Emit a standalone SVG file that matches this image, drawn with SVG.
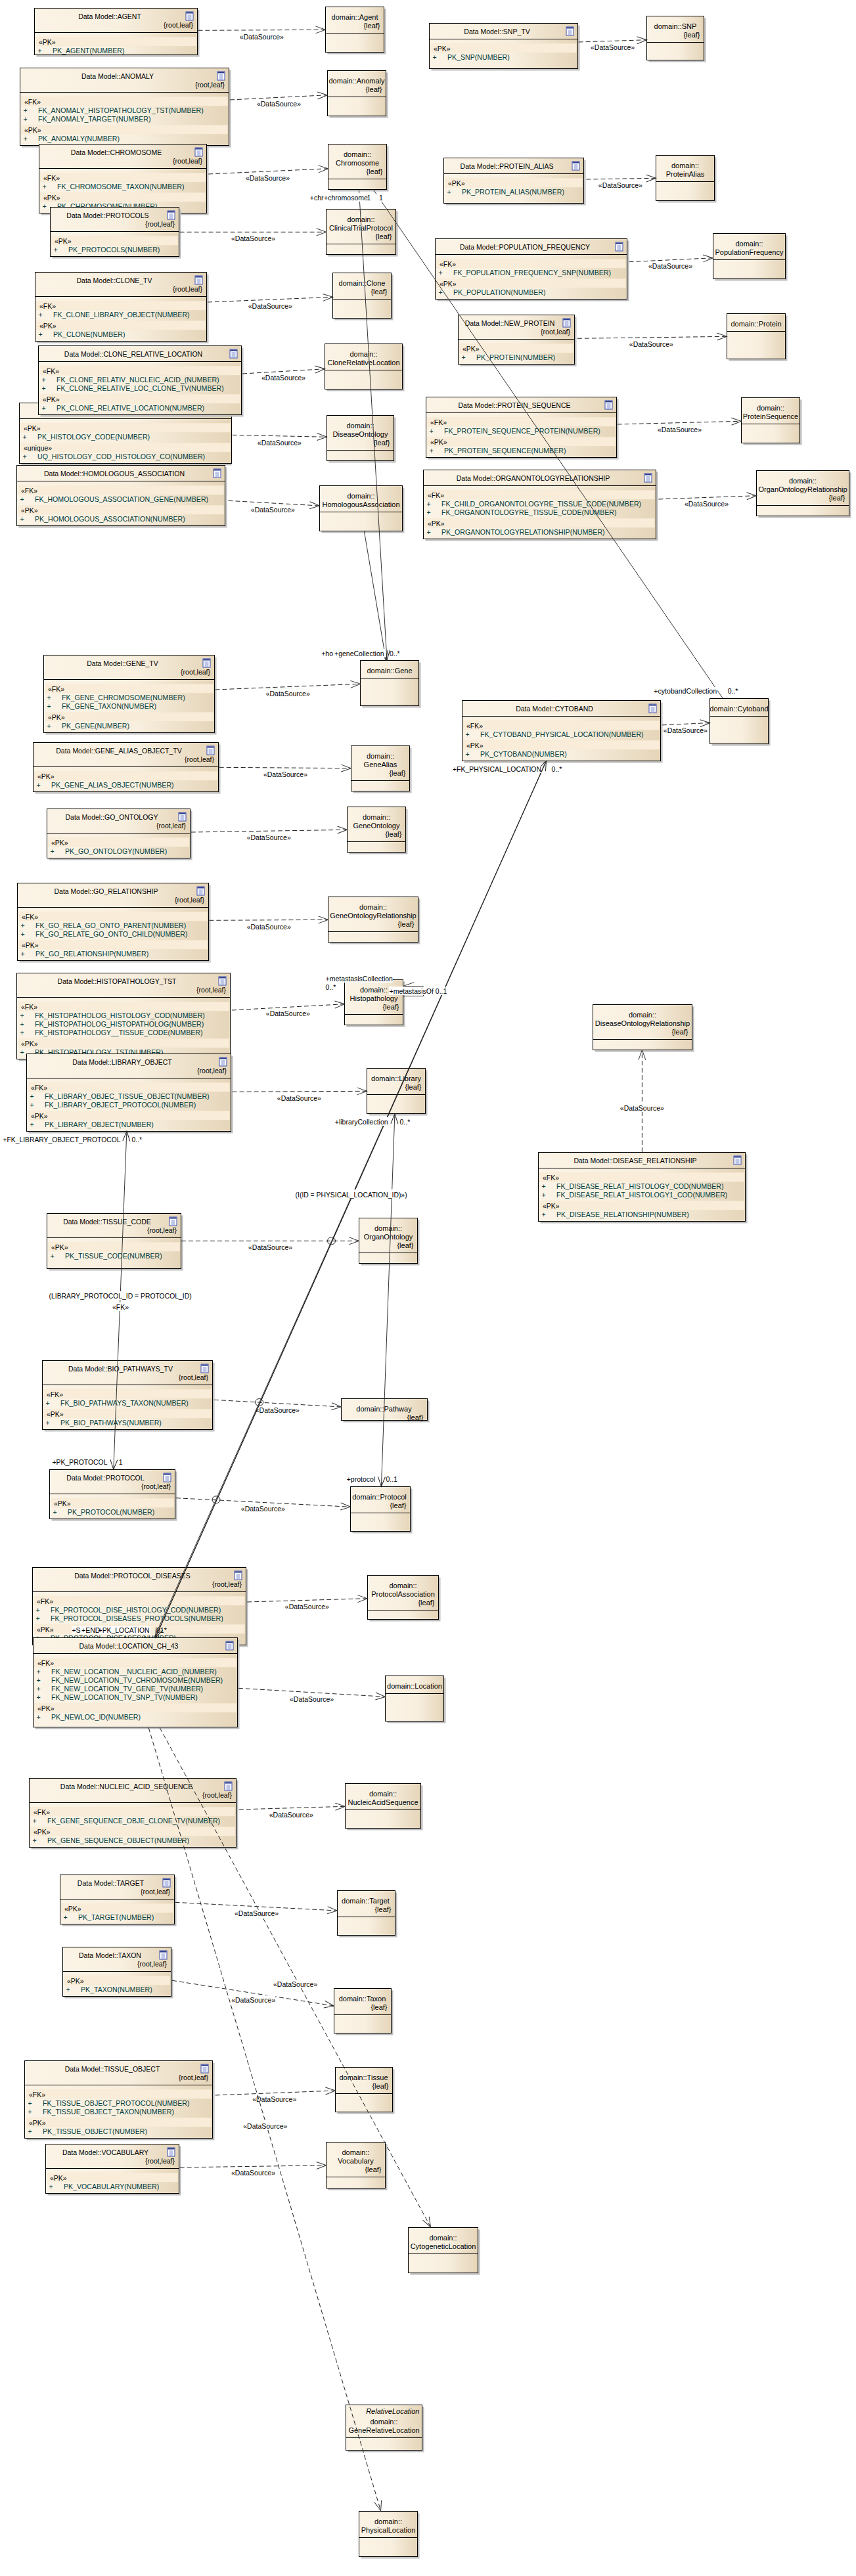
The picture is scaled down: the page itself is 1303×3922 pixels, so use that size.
<svg xmlns="http://www.w3.org/2000/svg" width="1303" height="3922" viewBox="0 0 1303 3922">
<style>
text{font-family:"Liberation Sans",Arial,sans-serif;font-size:11px;fill:#000}
#tables text,#labels text{font-size:10.5px}
#tables .a{font-size:10.6px;fill:#003c3c}
.sh{fill:#c0c0c0}
.b{fill:url(#g);stroke:#000;stroke-width:1}
.l{stroke:#000;stroke-width:1}
.bd{fill:#f9edd9;stroke:#f7e8d0;stroke-width:.5}
.t{text-anchor:middle}
.r{text-anchor:end}
.i{font-style:italic}
.d{fill:none;stroke:#222;stroke-width:1;stroke-dasharray:7 4;marker-end:url(#ah)}
.s{fill:none;stroke:#333;stroke-width:1}
.k{fill:none;stroke:#111;stroke-width:1.2}
.h{fill:none;stroke:#222;stroke-width:1}
.w{fill:#fff}
</style>
<defs>
<linearGradient id="g" x1="0" y1="0" x2="1" y2="0"><stop offset="0" stop-color="#fbf3e5"/><stop offset=".55" stop-color="#f8efdf"/><stop offset="1" stop-color="#e5d5b9"/></linearGradient>
<marker id="ah" markerUnits="userSpaceOnUse" markerWidth="18" markerHeight="14" viewBox="-16 -7 18 14" refX="0" refY="0" orient="auto"><path d="M-15,-5.5L0,0L-15,5.5" fill="none" stroke="#333" stroke-width="1"/></marker>
<marker id="as" markerUnits="userSpaceOnUse" markerWidth="18" markerHeight="14" viewBox="-16 -7 18 14" refX="0" refY="0" orient="auto-start-reverse"><path d="M-15,-5.5L0,0L-15,5.5" fill="none" stroke="#222" stroke-width="1"/></marker>
<g id="ico"><rect x=".5" y=".5" width="11" height="13" fill="#fff" stroke="#3a4fb0"/><rect x="1" y="1" width="10" height="2" fill="#2a3a8c"/><path d="M3,5.5H9M3,7.5H9M3,9.5H9M3,11.5H9" stroke="#7f8fd0" stroke-width="1"/></g>
</defs>
<g id="tables">
<g id="t-agent" transform="translate(52.5,12.5)"><rect class="sh" x="3" y="3" width="248" height="71"/><rect class="b" width="248" height="71"/><line class="l" x2="248" y1="37" y2="37"/><use href="#ico" x="230" y="5"/><text class="t" x="114.5" y="16">Data Model::AGENT</text><text class="r" x="241.5" y="29.5">{root,leaf}</text><g transform="translate(0,37)"><rect class="bd" x="2" y="7" width="244" height="13.5"/><text x="6.5" y="18">«PK»</text><text class="a" y="31"><tspan x="5">+</tspan><tspan x="27.5">PK_AGENT(NUMBER)</tspan></text></g></g>
<g id="t-anomaly" transform="translate(30.5,103.5)"><rect class="sh" x="3" y="3" width="318" height="118"/><rect class="b" width="318" height="118"/><line class="l" x2="318" y1="37" y2="37"/><use href="#ico" x="300" y="5"/><text class="t" x="148.5" y="16">Data Model::ANOMALY</text><text class="r" x="311.5" y="29.5">{root,leaf}</text><g transform="translate(0,37)"><rect class="bd" x="2" y="7" width="314" height="13.5"/><text x="6.5" y="18">«FK»</text><text class="a" y="31"><tspan x="5">+</tspan><tspan x="27.5">FK_ANOMALY_HISTOPATHOLOGY_TST(NUMBER)</tspan></text><text class="a" y="44"><tspan x="5">+</tspan><tspan x="27.5">FK_ANOMALY_TARGET(NUMBER)</tspan></text><rect class="bd" x="2" y="50" width="314" height="13.5"/><text x="6.5" y="61">«PK»</text><text class="a" y="74"><tspan x="5">+</tspan><tspan x="27.5">PK_ANOMALY(NUMBER)</tspan></text></g></g>
<g id="t-chromosome" transform="translate(59.5,219.5)"><rect class="sh" x="3" y="3" width="255" height="105"/><rect class="b" width="255" height="105"/><line class="l" x2="255" y1="37" y2="37"/><use href="#ico" x="237" y="5"/><text class="t" x="117.5" y="16">Data Model::CHROMOSOME</text><text class="r" x="248.5" y="29.5">{root,leaf}</text><g transform="translate(0,37)"><rect class="bd" x="2" y="7" width="251" height="13.5"/><text x="6.5" y="18">«FK»</text><text class="a" y="31"><tspan x="5">+</tspan><tspan x="27.5">FK_CHROMOSOME_TAXON(NUMBER)</tspan></text><rect class="bd" x="2" y="37" width="251" height="13.5"/><text x="6.5" y="48">«PK»</text><text class="a" y="61"><tspan x="5">+</tspan><tspan x="27.5">PK_CHROMOSOME(NUMBER)</tspan></text></g></g>
<g id="t-protocols" transform="translate(76.5,315.5)"><rect class="sh" x="3" y="3" width="196" height="75"/><rect class="b" width="196" height="75"/><line class="l" x2="196" y1="37" y2="37"/><use href="#ico" x="178" y="5"/><text class="t" x="87.5" y="16">Data Model::PROTOCOLS</text><text class="r" x="189.5" y="29.5">{root,leaf}</text><g transform="translate(0,37)"><rect class="bd" x="2" y="7" width="192" height="13.5"/><text x="6.5" y="18">«PK»</text><text class="a" y="31"><tspan x="5">+</tspan><tspan x="27.5">PK_PROTOCOLS(NUMBER)</tspan></text></g></g>
<g id="t-clone-tv" transform="translate(53.5,414.5)"><rect class="sh" x="3" y="3" width="261" height="105"/><rect class="b" width="261" height="105"/><line class="l" x2="261" y1="37" y2="37"/><use href="#ico" x="243" y="5"/><text class="t" x="120.5" y="16">Data Model::CLONE_TV</text><text class="r" x="254.5" y="29.5">{root,leaf}</text><g transform="translate(0,37)"><rect class="bd" x="2" y="7" width="257" height="13.5"/><text x="6.5" y="18">«FK»</text><text class="a" y="31"><tspan x="5">+</tspan><tspan x="27.5">FK_CLONE_LIBRARY_OBJECT(NUMBER)</tspan></text><rect class="bd" x="2" y="37" width="257" height="13.5"/><text x="6.5" y="48">«PK»</text><text class="a" y="61"><tspan x="5">+</tspan><tspan x="27.5">PK_CLONE(NUMBER)</tspan></text></g></g>
<g id="t-histology" transform="translate(29.5,613.5)"><rect class="sh" x="3" y="3" width="320" height="92"/><rect class="b" width="323" height="92"/><line class="l" x2="323" y1="24" y2="24"/><g transform="translate(0,24)"><rect class="bd" x="2" y="7" width="319" height="13.5"/><text x="6.5" y="18">«PK»</text><text class="a" y="31"><tspan x="5">+</tspan><tspan x="27.5">PK_HISTOLOGY_CODE(NUMBER)</tspan></text><rect class="bd" x="2" y="37" width="319" height="13.5"/><text x="6.5" y="48">«unique»</text><text class="a" y="61"><tspan x="5">+</tspan><tspan x="27.5">UQ_HISTOLOGY_COD_HISTOLOGY_CO(NUMBER)</tspan></text></g></g>
<g id="t-clone-relative" transform="translate(58.5,526.5)"><rect class="sh" x="3" y="3" width="309" height="105"/><rect class="b" width="309" height="105"/><line class="l" x2="309" y1="24" y2="24"/><use href="#ico" x="291" y="5"/><text class="t" x="144.5" y="16">Data Model::CLONE_RELATIVE_LOCATION</text><g transform="translate(0,24)"><rect class="bd" x="2" y="7" width="305" height="13.5"/><text x="6.5" y="18">«FK»</text><text class="a" y="31"><tspan x="5">+</tspan><tspan x="27.5">FK_CLONE_RELATIV_NUCLEIC_ACID_(NUMBER)</tspan></text><text class="a" y="44"><tspan x="5">+</tspan><tspan x="27.5">FK_CLONE_RELATIVE_LOC_CLONE_TV(NUMBER)</tspan></text><rect class="bd" x="2" y="50" width="305" height="13.5"/><text x="6.5" y="61">«PK»</text><text class="a" y="74"><tspan x="5">+</tspan><tspan x="27.5">PK_CLONE_RELATIVE_LOCATION(NUMBER)</tspan></text></g></g>
<g id="t-homologous" transform="translate(25.5,708.5)"><rect class="sh" x="3" y="3" width="317" height="92"/><rect class="b" width="317" height="92"/><line class="l" x2="317" y1="24" y2="24"/><use href="#ico" x="299" y="5"/><text class="t" x="148.5" y="16">Data Model::HOMOLOGOUS_ASSOCIATION</text><g transform="translate(0,24)"><rect class="bd" x="2" y="7" width="313" height="13.5"/><text x="6.5" y="18">«FK»</text><text class="a" y="31"><tspan x="5">+</tspan><tspan x="27.5">FK_HOMOLOGOUS_ASSOCIATION_GENE(NUMBER)</tspan></text><rect class="bd" x="2" y="37" width="313" height="13.5"/><text x="6.5" y="48">«PK»</text><text class="a" y="61"><tspan x="5">+</tspan><tspan x="27.5">PK_HOMOLOGOUS_ASSOCIATION(NUMBER)</tspan></text></g></g>
<g id="t-snp" transform="translate(653.5,35.5)"><rect class="sh" x="3" y="3" width="226" height="69"/><rect class="b" width="226" height="69"/><line class="l" x2="226" y1="24" y2="24"/><use href="#ico" x="208" y="5"/><text class="t" x="103" y="16">Data Model::SNP_TV</text><g transform="translate(0,24)"><rect class="bd" x="2" y="7" width="222" height="13.5"/><text x="6.5" y="18">«PK»</text><text class="a" y="31"><tspan x="5">+</tspan><tspan x="27.5">PK_SNP(NUMBER)</tspan></text></g></g>
<g id="t-protein-alias" transform="translate(675.5,240.5)"><rect class="sh" x="3" y="3" width="213" height="69"/><rect class="b" width="213" height="69"/><line class="l" x2="213" y1="24" y2="24"/><use href="#ico" x="195" y="5"/><text class="t" x="96" y="16">Data Model::PROTEIN_ALIAS</text><g transform="translate(0,24)"><rect class="bd" x="2" y="7" width="209" height="13.5"/><text x="6.5" y="18">«PK»</text><text class="a" y="31"><tspan x="5">+</tspan><tspan x="27.5">PK_PROTEIN_ALIAS(NUMBER)</tspan></text></g></g>
<g id="t-population" transform="translate(662.5,363.5)"><rect class="sh" x="3" y="3" width="292" height="92"/><rect class="b" width="292" height="92"/><line class="l" x2="292" y1="24" y2="24"/><use href="#ico" x="274" y="5"/><text class="t" x="136.5" y="16">Data Model::POPULATION_FREQUENCY</text><g transform="translate(0,24)"><rect class="bd" x="2" y="7" width="288" height="13.5"/><text x="6.5" y="18">«FK»</text><text class="a" y="31"><tspan x="5">+</tspan><tspan x="27.5">FK_POPULATION_FREQUENCY_SNP(NUMBER)</tspan></text><rect class="bd" x="2" y="37" width="288" height="13.5"/><text x="6.5" y="48">«PK»</text><text class="a" y="61"><tspan x="5">+</tspan><tspan x="27.5">PK_POPULATION(NUMBER)</tspan></text></g></g>
<g id="t-new-protein" transform="translate(697.5,479.5)"><rect class="sh" x="3" y="3" width="177" height="75"/><rect class="b" width="177" height="75"/><line class="l" x2="177" y1="37" y2="37"/><use href="#ico" x="159" y="5"/><text class="t" x="78.5" y="16">Data Model::NEW_PROTEIN</text><text class="r" x="170.5" y="29.5">{root,leaf}</text><g transform="translate(0,37)"><rect class="bd" x="2" y="7" width="173" height="13.5"/><text x="6.5" y="18">«PK»</text><text class="a" y="31"><tspan x="5">+</tspan><tspan x="27.5">PK_PROTEIN(NUMBER)</tspan></text></g></g>
<g id="t-protein-seq" transform="translate(648.5,604.5)"><rect class="sh" x="3" y="3" width="290" height="92"/><rect class="b" width="290" height="92"/><line class="l" x2="290" y1="24" y2="24"/><use href="#ico" x="272" y="5"/><text class="t" x="134.5" y="16">Data Model::PROTEIN_SEQUENCE</text><g transform="translate(0,24)"><rect class="bd" x="2" y="7" width="286" height="13.5"/><text x="6.5" y="18">«FK»</text><text class="a" y="31"><tspan x="5">+</tspan><tspan x="27.5">FK_PROTEIN_SEQUENCE_PROTEIN(NUMBER)</tspan></text><rect class="bd" x="2" y="37" width="286" height="13.5"/><text x="6.5" y="48">«PK»</text><text class="a" y="61"><tspan x="5">+</tspan><tspan x="27.5">PK_PROTEIN_SEQUENCE(NUMBER)</tspan></text></g></g>
<g id="t-organ-rel" transform="translate(644.5,715.5)"><rect class="sh" x="3" y="3" width="354" height="105"/><rect class="b" width="354" height="105"/><line class="l" x2="354" y1="24" y2="24"/><use href="#ico" x="336" y="5"/><text class="t" x="167" y="16">Data Model::ORGANONTOLOGYRELATIONSHIP</text><g transform="translate(0,24)"><rect class="bd" x="2" y="7" width="350" height="13.5"/><text x="6.5" y="18">«FK»</text><text class="a" y="31"><tspan x="5">+</tspan><tspan x="27.5">FK_CHILD_ORGANONTOLOGYRE_TISSUE_CODE(NUMBER)</tspan></text><text class="a" y="44"><tspan x="5">+</tspan><tspan x="27.5">FK_ORGANONTOLOGYRE_TISSUE_CODE(NUMBER)</tspan></text><rect class="bd" x="2" y="50" width="350" height="13.5"/><text x="6.5" y="61">«PK»</text><text class="a" y="74"><tspan x="5">+</tspan><tspan x="27.5">PK_ORGANONTOLOGYRELATIONSHIP(NUMBER)</tspan></text></g></g>
<g id="t-cytoband" transform="translate(703.5,1066.5)"><rect class="sh" x="3" y="3" width="302" height="92"/><rect class="b" width="302" height="92"/><line class="l" x2="302" y1="24" y2="24"/><use href="#ico" x="284" y="5"/><text class="t" x="140.5" y="16">Data Model::CYTOBAND</text><g transform="translate(0,24)"><rect class="bd" x="2" y="7" width="298" height="13.5"/><text x="6.5" y="18">«FK»</text><text class="a" y="31"><tspan x="5">+</tspan><tspan x="27.5">FK_CYTOBAND_PHYSICAL_LOCATION(NUMBER)</tspan></text><rect class="bd" x="2" y="37" width="298" height="13.5"/><text x="6.5" y="48">«PK»</text><text class="a" y="61"><tspan x="5">+</tspan><tspan x="27.5">PK_CYTOBAND(NUMBER)</tspan></text></g></g>
<g id="t-gene-tv" transform="translate(66.5,997.5)"><rect class="sh" x="3" y="3" width="260" height="118"/><rect class="b" width="260" height="118"/><line class="l" x2="260" y1="37" y2="37"/><use href="#ico" x="242" y="5"/><text class="t" x="120" y="16">Data Model::GENE_TV</text><text class="r" x="253.5" y="29.5">{root,leaf}</text><g transform="translate(0,37)"><rect class="bd" x="2" y="7" width="256" height="13.5"/><text x="6.5" y="18">«FK»</text><text class="a" y="31"><tspan x="5">+</tspan><tspan x="27.5">FK_GENE_CHROMOSOME(NUMBER)</tspan></text><text class="a" y="44"><tspan x="5">+</tspan><tspan x="27.5">FK_GENE_TAXON(NUMBER)</tspan></text><rect class="bd" x="2" y="50" width="256" height="13.5"/><text x="6.5" y="61">«PK»</text><text class="a" y="74"><tspan x="5">+</tspan><tspan x="27.5">PK_GENE(NUMBER)</tspan></text></g></g>
<g id="t-gene-alias" transform="translate(50.5,1130.5)"><rect class="sh" x="3" y="3" width="282" height="75"/><rect class="b" width="282" height="75"/><line class="l" x2="282" y1="37" y2="37"/><use href="#ico" x="264" y="5"/><text class="t" x="130.5" y="16">Data Model::GENE_ALIAS_OBJECT_TV</text><text class="r" x="275.5" y="29.5">{root,leaf}</text><g transform="translate(0,37)"><rect class="bd" x="2" y="7" width="278" height="13.5"/><text x="6.5" y="18">«PK»</text><text class="a" y="31"><tspan x="5">+</tspan><tspan x="27.5">PK_GENE_ALIAS_OBJECT(NUMBER)</tspan></text></g></g>
<g id="t-go-ontology" transform="translate(71.5,1231.5)"><rect class="sh" x="3" y="3" width="218" height="75"/><rect class="b" width="218" height="75"/><line class="l" x2="218" y1="37" y2="37"/><use href="#ico" x="200" y="5"/><text class="t" x="98.5" y="16">Data Model::GO_ONTOLOGY</text><text class="r" x="211.5" y="29.5">{root,leaf}</text><g transform="translate(0,37)"><rect class="bd" x="2" y="7" width="214" height="13.5"/><text x="6.5" y="18">«PK»</text><text class="a" y="31"><tspan x="5">+</tspan><tspan x="27.5">PK_GO_ONTOLOGY(NUMBER)</tspan></text></g></g>
<g id="t-go-rel" transform="translate(26.5,1344.5)"><rect class="sh" x="3" y="3" width="291" height="118"/><rect class="b" width="291" height="118"/><line class="l" x2="291" y1="37" y2="37"/><use href="#ico" x="273" y="5"/><text class="t" x="135" y="16">Data Model::GO_RELATIONSHIP</text><text class="r" x="284.5" y="29.5">{root,leaf}</text><g transform="translate(0,37)"><rect class="bd" x="2" y="7" width="287" height="13.5"/><text x="6.5" y="18">«FK»</text><text class="a" y="31"><tspan x="5">+</tspan><tspan x="27.5">FK_GO_RELA_GO_ONTO_PARENT(NUMBER)</tspan></text><text class="a" y="44"><tspan x="5">+</tspan><tspan x="27.5">FK_GO_RELATE_GO_ONTO_CHILD(NUMBER)</tspan></text><rect class="bd" x="2" y="50" width="287" height="13.5"/><text x="6.5" y="61">«PK»</text><text class="a" y="74"><tspan x="5">+</tspan><tspan x="27.5">PK_GO_RELATIONSHIP(NUMBER)</tspan></text></g></g>
<g id="t-histopathology" transform="translate(25.5,1481.5)"><rect class="sh" x="3" y="3" width="322" height="131"/><rect class="b" width="325" height="131"/><line class="l" x2="325" y1="37" y2="37"/><use href="#ico" x="307" y="5"/><text class="t" x="152.5" y="16">Data Model::HISTOPATHOLOGY_TST</text><text class="r" x="318.5" y="29.5">{root,leaf}</text><g transform="translate(0,37)"><rect class="bd" x="2" y="7" width="321" height="13.5"/><text x="6.5" y="18">«FK»</text><text class="a" y="31"><tspan x="5">+</tspan><tspan x="27.5">FK_HISTOPATHOLOG_HISTOLOGY_COD(NUMBER)</tspan></text><text class="a" y="44"><tspan x="5">+</tspan><tspan x="27.5">FK_HISTOPATHOLOG_HISTOPATHOLOG(NUMBER)</tspan></text><text class="a" y="57"><tspan x="5">+</tspan><tspan x="27.5">FK_HISTOPATHOLOGY__TISSUE_CODE(NUMBER)</tspan></text><rect class="bd" x="2" y="63" width="321" height="13.5"/><text x="6.5" y="74">«PK»</text><text class="a" y="87"><tspan x="5">+</tspan><tspan x="27.5">PK_HISTOPATHOLOGY_TST(NUMBER)</tspan></text></g></g>
<g id="t-library-object" transform="translate(40.5,1604.5)"><rect class="sh" x="3" y="3" width="311" height="118"/><rect class="b" width="311" height="118"/><line class="l" x2="311" y1="37" y2="37"/><use href="#ico" x="293" y="5"/><text class="t" x="145.5" y="16">Data Model::LIBRARY_OBJECT</text><text class="r" x="304.5" y="29.5">{root,leaf}</text><g transform="translate(0,37)"><rect class="bd" x="2" y="7" width="307" height="13.5"/><text x="6.5" y="18">«FK»</text><text class="a" y="31"><tspan x="5">+</tspan><tspan x="27.5">FK_LIBRARY_OBJEC_TISSUE_OBJECT(NUMBER)</tspan></text><text class="a" y="44"><tspan x="5">+</tspan><tspan x="27.5">FK_LIBRARY_OBJECT_PROTOCOL(NUMBER)</tspan></text><rect class="bd" x="2" y="50" width="307" height="13.5"/><text x="6.5" y="61">«PK»</text><text class="a" y="74"><tspan x="5">+</tspan><tspan x="27.5">PK_LIBRARY_OBJECT(NUMBER)</tspan></text></g></g>
<g id="t-tissue-code" transform="translate(71.5,1847.5)"><rect class="sh" x="3" y="3" width="204" height="84"/><rect class="b" width="204" height="84"/><line class="l" x2="204" y1="37" y2="37"/><use href="#ico" x="186" y="5"/><text class="t" x="91.5" y="16">Data Model::TISSUE_CODE</text><text class="r" x="197.5" y="29.5">{root,leaf}</text><g transform="translate(0,37)"><rect class="bd" x="2" y="7" width="200" height="13.5"/><text x="6.5" y="18">«PK»</text><text class="a" y="31"><tspan x="5">+</tspan><tspan x="27.5">PK_TISSUE_CODE(NUMBER)</tspan></text></g></g>
<g id="t-disease-rel" transform="translate(819.5,1754.5)"><rect class="sh" x="3" y="3" width="315" height="105"/><rect class="b" width="315" height="105"/><line class="l" x2="315" y1="24" y2="24"/><use href="#ico" x="297" y="5"/><text class="t" x="147.5" y="16">Data Model::DISEASE_RELATIONSHIP</text><g transform="translate(0,24)"><rect class="bd" x="2" y="7" width="311" height="13.5"/><text x="6.5" y="18">«FK»</text><text class="a" y="31"><tspan x="5">+</tspan><tspan x="27.5">FK_DISEASE_RELAT_HISTOLOGY_COD(NUMBER)</tspan></text><text class="a" y="44"><tspan x="5">+</tspan><tspan x="27.5">FK_DISEASE_RELAT_HISTOLOGY1_COD(NUMBER)</tspan></text><rect class="bd" x="2" y="50" width="311" height="13.5"/><text x="6.5" y="61">«PK»</text><text class="a" y="74"><tspan x="5">+</tspan><tspan x="27.5">PK_DISEASE_RELATIONSHIP(NUMBER)</tspan></text></g></g>
<g id="t-bio" transform="translate(64.5,2071.5)"><rect class="sh" x="3" y="3" width="259" height="105"/><rect class="b" width="259" height="105"/><line class="l" x2="259" y1="37" y2="37"/><use href="#ico" x="241" y="5"/><text class="t" x="119" y="16">Data Model::BIO_PATHWAYS_TV</text><text class="r" x="252.5" y="29.5">{root,leaf}</text><g transform="translate(0,37)"><rect class="bd" x="2" y="7" width="255" height="13.5"/><text x="6.5" y="18">«FK»</text><text class="a" y="31"><tspan x="5">+</tspan><tspan x="27.5">FK_BIO_PATHWAYS_TAXON(NUMBER)</tspan></text><rect class="bd" x="2" y="37" width="255" height="13.5"/><text x="6.5" y="48">«PK»</text><text class="a" y="61"><tspan x="5">+</tspan><tspan x="27.5">PK_BIO_PATHWAYS(NUMBER)</tspan></text></g></g>
<g id="t-protocol" transform="translate(75.5,2237.5)"><rect class="sh" x="3" y="3" width="191" height="75"/><rect class="b" width="191" height="75"/><line class="l" x2="191" y1="37" y2="37"/><use href="#ico" x="173" y="5"/><text class="t" x="85" y="16">Data Model::PROTOCOL</text><text class="r" x="184.5" y="29.5">{root,leaf}</text><g transform="translate(0,37)"><rect class="bd" x="2" y="7" width="187" height="13.5"/><text x="6.5" y="18">«PK»</text><text class="a" y="31"><tspan x="5">+</tspan><tspan x="27.5">PK_PROTOCOL(NUMBER)</tspan></text></g></g>
<g id="t-protocol-diseases" transform="translate(49.5,2386.5)"><rect class="sh" x="3" y="3" width="325" height="118"/><rect class="b" width="325" height="118"/><line class="l" x2="325" y1="37" y2="37"/><use href="#ico" x="307" y="5"/><text class="t" x="152" y="16">Data Model::PROTOCOL_DISEASES</text><text class="r" x="318.5" y="29.5">{root,leaf}</text><g transform="translate(0,37)"><rect class="bd" x="2" y="7" width="321" height="13.5"/><text x="6.5" y="18">«FK»</text><text class="a" y="31"><tspan x="5">+</tspan><tspan x="27.5">FK_PROTOCOL_DISE_HISTOLOGY_COD(NUMBER)</tspan></text><text class="a" y="44"><tspan x="5">+</tspan><tspan x="27.5">FK_PROTOCOL_DISEASES_PROTOCOLS(NUMBER)</tspan></text><rect class="bd" x="2" y="50" width="321" height="13.5"/><text x="6.5" y="61">«PK»</text><text class="a" y="74"><tspan x="5">+</tspan><tspan x="27.5">PK_PROTOCOL_DISEASES(NUMBER)</tspan></text></g></g>
<g id="t-location" transform="translate(50.5,2493.5)"><rect class="sh" x="3" y="3" width="311" height="136"/><rect class="b" width="311" height="136"/><line class="l" x2="311" y1="24" y2="24"/><use href="#ico" x="293" y="5"/><text class="t" x="145.5" y="16">Data Model::LOCATION_CH_43</text><g transform="translate(0,24)"><rect class="bd" x="2" y="7" width="307" height="13.5"/><text x="6.5" y="18">«FK»</text><text class="a" y="31"><tspan x="5">+</tspan><tspan x="27.5">FK_NEW_LOCATION__NUCLEIC_ACID_(NUMBER)</tspan></text><text class="a" y="44"><tspan x="5">+</tspan><tspan x="27.5">FK_NEW_LOCATION_TV_CHROMOSOME(NUMBER)</tspan></text><text class="a" y="57"><tspan x="5">+</tspan><tspan x="27.5">FK_NEW_LOCATION_TV_GENE_TV(NUMBER)</tspan></text><text class="a" y="70"><tspan x="5">+</tspan><tspan x="27.5">FK_NEW_LOCATION_TV_SNP_TV(NUMBER)</tspan></text><rect class="bd" x="2" y="76" width="307" height="13.5"/><text x="6.5" y="87">«PK»</text><text class="a" y="100"><tspan x="5">+</tspan><tspan x="27.5">PK_NEWLOC_ID(NUMBER)</tspan></text></g></g>
<g id="t-nucleic" transform="translate(44.5,2707.5)"><rect class="sh" x="3" y="3" width="315" height="105"/><rect class="b" width="315" height="105"/><line class="l" x2="315" y1="37" y2="37"/><use href="#ico" x="297" y="5"/><text class="t" x="148" y="16">Data Model::NUCLEIC_ACID_SEQUENCE</text><text class="r" x="308.5" y="29.5">{root,leaf}</text><g transform="translate(0,37)"><rect class="bd" x="2" y="7" width="311" height="13.5"/><text x="6.5" y="18">«FK»</text><text class="a" y="31"><tspan x="5">+</tspan><tspan x="27.5">FK_GENE_SEQUENCE_OBJE_CLONE_TV(NUMBER)</tspan></text><rect class="bd" x="2" y="37" width="311" height="13.5"/><text x="6.5" y="48">«PK»</text><text class="a" y="61"><tspan x="5">+</tspan><tspan x="27.5">PK_GENE_SEQUENCE_OBJECT(NUMBER)</tspan></text></g></g>
<g id="t-target" transform="translate(91.5,2854.5)"><rect class="sh" x="3" y="3" width="174" height="75"/><rect class="b" width="174" height="75"/><line class="l" x2="174" y1="37" y2="37"/><use href="#ico" x="156" y="5"/><text class="t" x="77" y="16">Data Model::TARGET</text><text class="r" x="167.5" y="29.5">{root,leaf}</text><g transform="translate(0,37)"><rect class="bd" x="2" y="7" width="170" height="13.5"/><text x="6.5" y="18">«PK»</text><text class="a" y="31"><tspan x="5">+</tspan><tspan x="27.5">PK_TARGET(NUMBER)</tspan></text></g></g>
<g id="t-taxon" transform="translate(95.5,2964.5)"><rect class="sh" x="3" y="3" width="165" height="75"/><rect class="b" width="165" height="75"/><line class="l" x2="165" y1="37" y2="37"/><use href="#ico" x="147" y="5"/><text class="t" x="72" y="16">Data Model::TAXON</text><text class="r" x="158.5" y="29.5">{root,leaf}</text><g transform="translate(0,37)"><rect class="bd" x="2" y="7" width="161" height="13.5"/><text x="6.5" y="18">«PK»</text><text class="a" y="31"><tspan x="5">+</tspan><tspan x="27.5">PK_TAXON(NUMBER)</tspan></text></g></g>
<g id="t-tissue-object" transform="translate(37.5,3137.5)"><rect class="sh" x="3" y="3" width="286" height="118"/><rect class="b" width="286" height="118"/><line class="l" x2="286" y1="37" y2="37"/><use href="#ico" x="268" y="5"/><text class="t" x="133.5" y="16">Data Model::TISSUE_OBJECT</text><text class="r" x="279.5" y="29.5">{root,leaf}</text><g transform="translate(0,37)"><rect class="bd" x="2" y="7" width="282" height="13.5"/><text x="6.5" y="18">«FK»</text><text class="a" y="31"><tspan x="5">+</tspan><tspan x="27.5">FK_TISSUE_OBJECT_PROTOCOL(NUMBER)</tspan></text><text class="a" y="44"><tspan x="5">+</tspan><tspan x="27.5">FK_TISSUE_OBJECT_TAXON(NUMBER)</tspan></text><rect class="bd" x="2" y="50" width="282" height="13.5"/><text x="6.5" y="61">«PK»</text><text class="a" y="74"><tspan x="5">+</tspan><tspan x="27.5">PK_TISSUE_OBJECT(NUMBER)</tspan></text></g></g>
<g id="t-vocabulary" transform="translate(69.5,3264.5)"><rect class="sh" x="3" y="3" width="203" height="75"/><rect class="b" width="203" height="75"/><line class="l" x2="203" y1="37" y2="37"/><use href="#ico" x="185" y="5"/><text class="t" x="91" y="16">Data Model::VOCABULARY</text><text class="r" x="196.5" y="29.5">{root,leaf}</text><g transform="translate(0,37)"><rect class="bd" x="2" y="7" width="199" height="13.5"/><text x="6.5" y="18">«PK»</text><text class="a" y="31"><tspan x="5">+</tspan><tspan x="27.5">PK_VOCABULARY(NUMBER)</tspan></text></g></g>
</g>
<g id="classes">
<g id="d-agent" transform="translate(495.5,10.5)"><rect class="sh" x="3" y="3" width="89" height="69"/><rect class="b" width="89" height="69"/><line class="l" x2="89" y1="40" y2="40"/><text class="t" x="44.5" y="19">domain::Agent</text><text class="r" x="83" y="32">{leaf}</text></g>
<g id="d-anomaly" transform="translate(498.5,107.5)"><rect class="sh" x="3" y="3" width="89" height="69"/><rect class="b" width="89" height="69"/><line class="l" x2="89" y1="40" y2="40"/><text class="t" x="44.5" y="19">domain::Anomaly</text><text class="r" x="83" y="32">{leaf}</text></g>
<g id="d-chromosome" transform="translate(499.5,219.5)"><rect class="sh" x="3" y="3" width="89" height="69"/><rect class="b" width="89" height="69"/><line class="l" x2="89" y1="53" y2="53"/><text class="t" x="44.5" y="19">domain::</text><text class="t" x="44.5" y="32">Chromosome</text><text class="r" x="83" y="45">{leaf}</text></g>
<g id="d-clinical" transform="translate(496.5,318.5)"><rect class="sh" x="3" y="3" width="106" height="69"/><rect class="b" width="106" height="69"/><line class="l" x2="106" y1="53" y2="53"/><text class="t" x="53" y="19">domain::</text><text class="t" x="53" y="32">ClinicalTrialProtocol</text><text class="r" x="100" y="45">{leaf}</text></g>
<g id="d-clone" transform="translate(506.5,415.5)"><rect class="sh" x="3" y="3" width="89" height="69"/><rect class="b" width="89" height="69"/><line class="l" x2="89" y1="40" y2="40"/><text class="t" x="44.5" y="19">domain::Clone</text><text class="r" x="83" y="32">{leaf}</text></g>
<g id="d-clone-rel" transform="translate(494.5,523.5)"><rect class="sh" x="3" y="3" width="118" height="69"/><rect class="b" width="118" height="69"/><line class="l" x2="118" y1="40" y2="40"/><text class="t" x="59" y="19">domain::</text><text class="t" x="59" y="32">CloneRelativeLocation</text></g>
<g id="d-disease-ont" transform="translate(497.5,632.5)"><rect class="sh" x="3" y="3" width="102" height="69"/><rect class="b" width="102" height="69"/><line class="l" x2="102" y1="53" y2="53"/><text class="t" x="51" y="19">domain::</text><text class="t" x="51" y="32">DiseaseOntology</text><text class="r" x="96" y="45">{leaf}</text></g>
<g id="d-homologous" transform="translate(486.5,739.5)"><rect class="sh" x="3" y="3" width="126" height="69"/><rect class="b" width="126" height="69"/><line class="l" x2="126" y1="40" y2="40"/><text class="t" x="63" y="19">domain::</text><text class="t" x="63" y="32">HomologousAssociation</text></g>
<g id="d-snp" transform="translate(984.5,24.5)"><rect class="sh" x="3" y="3" width="87" height="67"/><rect class="b" width="87" height="67"/><line class="l" x2="87" y1="40" y2="40"/><text class="t" x="43.5" y="19">domain::SNP</text><text class="r" x="81" y="32">{leaf}</text></g>
<g id="d-protein-alias" transform="translate(998.5,236.5)"><rect class="sh" x="3" y="3" width="89" height="69"/><rect class="b" width="89" height="69"/><line class="l" x2="89" y1="40" y2="40"/><text class="t" x="44.5" y="19">domain::</text><text class="t" x="44.5" y="32">ProteinAlias</text></g>
<g id="d-population" transform="translate(1085.5,355.5)"><rect class="sh" x="3" y="3" width="110" height="69"/><rect class="b" width="110" height="69"/><line class="l" x2="110" y1="40" y2="40"/><text class="t" x="55" y="19">domain::</text><text class="t" x="55" y="32">PopulationFrequency</text></g>
<g id="d-protein" transform="translate(1106.5,477.5)"><rect class="sh" x="3" y="3" width="89" height="69"/><rect class="b" width="89" height="69"/><line class="l" x2="89" y1="27" y2="27"/><text class="t" x="44.5" y="19">domain::Protein</text></g>
<g id="d-protein-seq" transform="translate(1128.5,605.5)"><rect class="sh" x="3" y="3" width="89" height="69"/><rect class="b" width="89" height="69"/><line class="l" x2="89" y1="40" y2="40"/><text class="t" x="44.5" y="19">domain::</text><text class="t" x="44.5" y="32">ProteinSequence</text></g>
<g id="d-organ-rel" transform="translate(1151.5,716.5)"><rect class="sh" x="3" y="3" width="141" height="69"/><rect class="b" width="141" height="69"/><line class="l" x2="141" y1="53" y2="53"/><text class="t" x="70.5" y="19">domain::</text><text class="t" x="70.5" y="32">OrganOntologyRelationship</text><text class="r" x="135" y="45">{leaf}</text></g>
<g id="d-cytoband" transform="translate(1080.5,1063.5)"><rect class="sh" x="3" y="3" width="89" height="69"/><rect class="b" width="89" height="69"/><line class="l" x2="89" y1="27" y2="27"/><text class="t" x="44.5" y="19">domain::Cytoband</text></g>
<g id="d-gene" transform="translate(548.5,1005.5)"><rect class="sh" x="3" y="3" width="89" height="69"/><rect class="b" width="89" height="69"/><line class="l" x2="89" y1="27" y2="27"/><text class="t" x="44.5" y="19">domain::Gene</text></g>
<g id="d-gene-alias" transform="translate(534.5,1135.5)"><rect class="sh" x="3" y="3" width="89" height="69"/><rect class="b" width="89" height="69"/><line class="l" x2="89" y1="53" y2="53"/><text class="t" x="44.5" y="19">domain::</text><text class="t" x="44.5" y="32">GeneAlias</text><text class="r" x="83" y="45">{leaf}</text></g>
<g id="d-gene-ont" transform="translate(528.5,1228.5)"><rect class="sh" x="3" y="3" width="89" height="69"/><rect class="b" width="89" height="69"/><line class="l" x2="89" y1="53" y2="53"/><text class="t" x="44.5" y="19">domain::</text><text class="t" x="44.5" y="32">GeneOntology</text><text class="r" x="83" y="45">{leaf}</text></g>
<g id="d-gene-ont-rel" transform="translate(499.5,1365.5)"><rect class="sh" x="3" y="3" width="137" height="69"/><rect class="b" width="137" height="69"/><line class="l" x2="137" y1="53" y2="53"/><text class="t" x="68.5" y="19">domain::</text><text class="t" x="68.5" y="32">GeneOntologyRelationship</text><text class="r" x="131" y="45">{leaf}</text></g>
<g id="d-histopathology" transform="translate(524.5,1491.5)"><rect class="sh" x="3" y="3" width="89" height="69"/><rect class="b" width="89" height="69"/><line class="l" x2="89" y1="53" y2="53"/><text class="t" x="44.5" y="19">domain::</text><text class="t" x="44.5" y="32">Histopathology</text><text class="r" x="83" y="45">{leaf}</text></g>
<g id="d-disease-ont-rel" transform="translate(902.5,1529.5)"><rect class="sh" x="3" y="3" width="151" height="69"/><rect class="b" width="151" height="69"/><line class="l" x2="151" y1="53" y2="53"/><text class="t" x="75.5" y="19">domain::</text><text class="t" x="75.5" y="32">DiseaseOntologyRelationship</text><text class="r" x="145" y="45">{leaf}</text></g>
<g id="d-library" transform="translate(558.5,1626.5)"><rect class="sh" x="3" y="3" width="89" height="69"/><rect class="b" width="89" height="69"/><line class="l" x2="89" y1="40" y2="40"/><text class="t" x="44.5" y="19">domain::Library</text><text class="r" x="83" y="32">{leaf}</text></g>
<g id="d-organ-ont" transform="translate(546.5,1854.5)"><rect class="sh" x="3" y="3" width="89" height="69"/><rect class="b" width="89" height="69"/><line class="l" x2="89" y1="53" y2="53"/><text class="t" x="44.5" y="19">domain::</text><text class="t" x="44.5" y="32">OrganOntology</text><text class="r" x="83" y="45">{leaf}</text></g>
<g id="d-pathway" transform="translate(519.5,2129.5)"><rect class="sh" x="3" y="3" width="131" height="33"/><rect class="b" width="131" height="33"/><text class="t" x="65" y="19">domain::Pathway</text><text class="r" x="125" y="32">{leaf}</text></g>
<g id="d-protocol" transform="translate(533.5,2263.5)"><rect class="sh" x="3" y="3" width="91" height="68"/><rect class="b" width="91" height="68"/><line class="l" x2="91" y1="40" y2="40"/><text class="t" x="44" y="19">domain::Protocol</text><text class="r" x="85" y="32">{leaf}</text></g>
<g id="d-protocol-assoc" transform="translate(559.5,2398.5)"><rect class="sh" x="3" y="3" width="108" height="67"/><rect class="b" width="108" height="67"/><line class="l" x2="108" y1="53" y2="53"/><text class="t" x="54" y="19">domain::</text><text class="t" x="54" y="32">ProtocolAssociation</text><text class="r" x="102" y="45">{leaf}</text></g>
<g id="d-location" transform="translate(586.5,2551.5)"><rect class="sh" x="3" y="3" width="89" height="69"/><rect class="b" width="89" height="69"/><line class="l" x2="89" y1="27" y2="27"/><text class="t" x="44.5" y="19">domain::Location</text></g>
<g id="d-nucleic" transform="translate(525.5,2715.5)"><rect class="sh" x="3" y="3" width="115" height="68"/><rect class="b" width="115" height="68"/><line class="l" x2="115" y1="40" y2="40"/><text class="t" x="57.5" y="19">domain::</text><text class="t" x="57.5" y="32">NucleicAcidSequence</text></g>
<g id="d-target" transform="translate(513.5,2878.5)"><rect class="sh" x="3" y="3" width="88" height="68"/><rect class="b" width="88" height="68"/><line class="l" x2="88" y1="40" y2="40"/><text class="t" x="43" y="19">domain::Target</text><text class="r" x="82" y="32">{leaf}</text></g>
<g id="d-taxon" transform="translate(508.5,3027.5)"><rect class="sh" x="3" y="3" width="87" height="68"/><rect class="b" width="87" height="68"/><line class="l" x2="87" y1="40" y2="40"/><text class="t" x="43" y="19">domain::Taxon</text><text class="r" x="81" y="32">{leaf}</text></g>
<g id="d-tissue" transform="translate(510.5,3147.5)"><rect class="sh" x="3" y="3" width="87" height="68"/><rect class="b" width="87" height="68"/><line class="l" x2="87" y1="40" y2="40"/><text class="t" x="43" y="19">domain::Tissue</text><text class="r" x="81" y="32">{leaf}</text></g>
<g id="d-vocabulary" transform="translate(496.5,3261.5)"><rect class="sh" x="3" y="3" width="90" height="70"/><rect class="b" width="90" height="70"/><line class="l" x2="90" y1="53" y2="53"/><text class="t" x="45" y="19">domain::</text><text class="t" x="45" y="32">Vocabulary</text><text class="r" x="84" y="45">{leaf}</text></g>
<g id="d-cytogenetic" transform="translate(621.5,3391.5)"><rect class="sh" x="3" y="3" width="106" height="69"/><rect class="b" width="106" height="69"/><line class="l" x2="106" y1="40" y2="40"/><text class="t" x="53" y="19">domain::</text><text class="t" x="53" y="32">CytogeneticLocation</text></g>
<g id="d-gene-rel-loc" transform="translate(526.5,3661.5)"><rect class="sh" x="3" y="3" width="116" height="69"/><rect class="b" width="116" height="69"/><line class="l" x2="116" y1="50" y2="50"/><text class="r i" x="112" y="13">RelativeLocation</text><text class="t" x="58" y="29">domain::</text><text class="t" x="58" y="42">GeneRelativeLocation</text></g>
<g id="d-physical" transform="translate(546.5,3823.5)"><rect class="sh" x="3" y="3" width="89" height="69"/><rect class="b" width="89" height="69"/><line class="l" x2="89" y1="40" y2="40"/><text class="t" x="44.5" y="19">domain::</text><text class="t" x="44.5" y="32">PhysicalLocation</text></g>
</g>
<g id="connectors">
<path class="d" d="M301.4,46.3L495.4,45.3"/>
<path class="d" d="M350,152L498.3,144.7"/>
<path class="d" d="M317.2,265L499.6,256.7"/>
<path class="d" d="M273.6,353.3L496.7,353.3"/>
<path class="d" d="M316,460L506.6,452.3"/>
<path class="d" d="M369,569L494.6,561.7"/>
<path class="d" d="M353.6,662.3L497.5,665.3"/>
<path class="d" d="M347.4,762.3L486.3,770"/>
<path class="d" d="M880.6,64L984.6,60.7"/>
<path class="d" d="M892.4,273L998.6,271.3"/>
<path class="d" d="M957.5,398.7L1085.2,392.7"/>
<path class="d" d="M878.9,515.3L1106.4,512.3"/>
<path class="d" d="M939.8,646L1128.4,641.3"/>
<path class="d" d="M1002.4,760L1151.6,754.7"/>
<path class="d" d="M1007.9,1103.9L1080.6,1100.5"/>
<path class="d" d="M327.5,1050L548.5,1041.3"/>
<path class="d" d="M333.7,1168.3L534.4,1169.7"/>
<path class="d" d="M291,1267L528.6,1263.3"/>
<path class="d" d="M318.4,1401.3L499.6,1400.3"/>
<path class="d" d="M353.1,1538L524.6,1528.7"/>
<path class="d" d="M353.6,1662.3L558.5,1661.3"/>
<path class="d" d="M275.9,1889.3L546.4,1889.3"/>
<path class="d" d="M977.4,1754L977.4,1598.7"/>
<path class="d" d="M325.9,2131.3L519.6,2142"/>
<path class="d" d="M267.9,2280.7L533.5,2294.3"/>
<path class="d" d="M376.3,2439L559.4,2433.7"/>
<path class="d" d="M362.9,2570.3L586.6,2583.3"/>
<path class="d" d="M363.8,2755L525.4,2750.3"/>
<path class="d" d="M266.5,2896.3L513.4,2909"/>
<path class="d" d="M262,3015.3L508.5,3054"/>
<path class="d" d="M327.8,3190L510.5,3183"/>
<path class="d" d="M273.7,3300L496.7,3296.7"/>
<path class="d" d="M243.3,2630.7L655.5,3390.7"/>
<path class="d" d="M226.3,2630.7L579.6,3822.7"/>
<path class="s" d="M546.4,288.3L589,1005" marker-end="url(#as)"/>
<path class="s" d="M554.3,808.3L587.5,1005" marker-end="url(#as)"/>
<path class="s" d="M568,288.3L1100,1063"/>
<path class="k" d="M831.5,1158.4L236.6,2493.3" marker-start="url(#as)" marker-end="url(#as)"/>
<path class="s" d="M831.5,1158.4L235.8,2491"/>
<path class="s" d="M192.9,1722.3L172.8,2237.3" marker-start="url(#as)" marker-end="url(#as)"/>
<path class="s" d="M600.9,1696L580.4,2263.3" marker-start="url(#as)" marker-end="url(#as)"/>
<path class="s" d="M599,1491.5H613.5V1501.5"/>
<path class="s" d="M630,1495.7L613.5,1501.5L630,1507"/>
<path class="s" d="M613.5,1501.5H644.5V1516.5H613.5"/>
<ellipse class="h" cx="504.5" cy="1889.3" rx="6" ry="5.5"/>
<ellipse class="h" cx="394.6" cy="2135" rx="6" ry="5.5"/>
<ellipse class="h" cx="329" cy="2283.3" rx="6" ry="5.5"/>
</g>
<g id="labels">
<text class="t" x="398.4" y="60">«DataSource»</text>
<text class="t" x="424.5" y="162">«DataSource»</text>
<text class="t" x="407.5" y="275">«DataSource»</text>
<text class="t" x="385.6" y="367">«DataSource»</text>
<text class="t" x="411.3" y="470">«DataSource»</text>
<text class="t" x="431.6" y="579">«DataSource»</text>
<text class="t" x="425.4" y="678">«DataSource»</text>
<text class="t" x="415.4" y="780">«DataSource»</text>
<text class="t" x="932.6" y="76">«DataSource»</text>
<text class="t" x="944.4" y="286">«DataSource»</text>
<text class="t" x="1020.5" y="409">«DataSource»</text>
<text class="t" x="991.4" y="528">«DataSource»</text>
<text class="t" x="1034.5" y="658">«DataSource»</text>
<text class="t" x="1075.5" y="771">«DataSource»</text>
<text class="t" x="1043.4" y="1115.5">«DataSource»</text>
<text class="t" x="438.2" y="1060">«DataSource»</text>
<text class="t" x="434.5" y="1183">«DataSource»</text>
<text class="t" x="409.2" y="1279">«DataSource»</text>
<text class="t" x="409.2" y="1415">«DataSource»</text>
<text class="t" x="438.4" y="1547">«DataSource»</text>
<text class="t" x="455.4" y="1676">«DataSource»</text>
<text class="t" x="411.6" y="1903">«DataSource»</text>
<rect class="w" x="944" y="1680" width="67" height="13"/><text class="t" x="977.4" y="1691">«DataSource»</text>
<text class="t" x="422.3" y="2151">«DataSource»</text>
<text class="t" x="400.4" y="2301">«DataSource»</text>
<text class="t" x="467.4" y="2450">«DataSource»</text>
<text class="t" x="474.6" y="2591">«DataSource»</text>
<text class="t" x="443.3" y="2767">«DataSource»</text>
<text class="t" x="390.6" y="2917">«DataSource»</text>
<rect class="w" x="352" y="3038" width="67" height="13"/><text class="t" x="385.7" y="3049">«DataSource»</text>
<text class="t" x="417.7" y="3200">«DataSource»</text>
<text class="t" x="385.6" y="3312">«DataSource»</text>
<rect class="w" x="416" y="3014" width="67" height="13"/><text class="t" x="449.6" y="3025">«DataSource»</text>
<rect class="w" x="371" y="3230" width="66" height="13"/><text class="t" x="403.8" y="3241">«DataSource»</text>
<rect class="w" x="471" y="294" width="91" height="13"/><text x="471.8" y="305">+chr</text><text x="493" y="305">+chromosome</text><text x="558.5" y="305">1</text>
<rect class="w" x="573" y="294" width="10" height="13"/><text x="577" y="305">1</text>
<rect class="w" x="489" y="988" width="98" height="13"/><text x="489.2" y="999">+ho</text><text x="509" y="999">+geneCollection</text><text x="592.9" y="999">0..*</text>
<rect class="w" x="495" y="1483" width="103" height="13"/><text x="495.5" y="1494">+metastasisCollection</text>
<text x="495.5" y="1507">0..*</text>
<rect class="w" x="592" y="1502" width="86" height="13"/><text x="592.5" y="1513">+metastasisOf 0..1</text>
<rect class="w" x="510" y="1701" width="82" height="13"/><text x="509.8" y="1712">+libraryCollection</text>
<text x="608.5" y="1712">0..*</text>
<rect class="w" x="4" y="1728" width="180" height="13"/><text x="4.5" y="1739" textLength="179" lengthAdjust="spacingAndGlyphs">+FK_LIBRARY_OBJECT_PROTOCOL</text>
<text x="200.4" y="1739">0..*</text>
<rect class="w" x="449" y="1811" width="171" height="14"/><text x="449.6" y="1822.5" textLength="170" lengthAdjust="spacingAndGlyphs">(I(ID = PHYSICAL_LOCATION_ID)»)</text>
<rect class="w" x="74" y="1966" width="218" height="13"/><text x="74.6" y="1977" textLength="217" lengthAdjust="spacingAndGlyphs">(LIBRARY_PROTOCOL_ID = PROTOCOL_ID)</text>
<rect class="w" x="171" y="1983" width="25" height="13"/><text class="t" x="183.5" y="1994">«FK»</text>
<text x="79.5" y="2230" textLength="84" lengthAdjust="spacingAndGlyphs">+PK_PROTOCOL</text><text x="180.8" y="2230">1</text>
<text x="527.7" y="2256">+protocol</text><text x="587.5" y="2256">0..1</text>
<rect class="w" x="689" y="1164" width="135" height="13"/><text x="689" y="1175" textLength="135" lengthAdjust="spacingAndGlyphs">+FK_PHYSICAL_LOCATION</text>
<text x="839.6" y="1175">0..*</text>
<rect class="w" x="995" y="1046" width="97" height="12"/><text x="995.2" y="1056" textLength="96" lengthAdjust="spacingAndGlyphs">+cytobandCollection</text>
<text x="1107.7" y="1056">0..*</text>
<rect class="w" x="109" y="2476" width="120" height="12"/><text x="109.4" y="2486">+S</text><text x="124" y="2486">+END</text><text x="149.6" y="2486" textLength="78" lengthAdjust="spacingAndGlyphs">+PK_LOCATION</text>
<text x="238" y="2486">01*</text>
</g>
</svg>
